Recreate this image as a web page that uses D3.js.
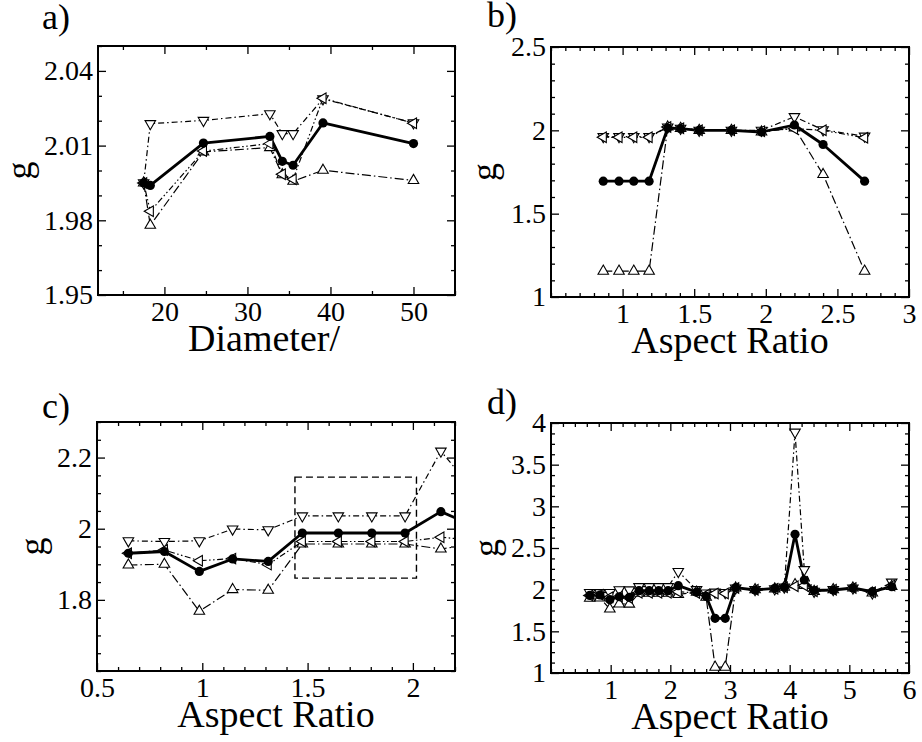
<!DOCTYPE html>
<html>
<head>
<meta charset="utf-8">
<script src="https://cdn.jsdelivr.net/npm/d3@7"></script>
<style>
html,body{margin:0;padding:0;background:#fff;}
svg{display:block;}
svg text{font-family:'Liberation Serif','DejaVu Serif',serif !important;}
</style>
</head>
<body>
<svg id="chart" width="922" height="742"></svg>
<script>
// ---------- DATA ----------
// Panel a: g vs Diameter
const aX      = [17.5, 18.3, 24.7, 32.7, 34.2, 35.5, 39.1, 50];
const aCircle = [1.995, 1.994, 2.011, 2.0137, 2.0037, 2.0021, 2.0191, 2.0108];
const aDown   = [1.995, 2.0188, 2.0201, 2.0228, 2.0148, 2.0148, 2.0288, 2.0191];
const aUp     = [1.995, 1.978, 2.0075, 2.0092, 1.9983, 1.9957, 2.0001, 1.9960];
const aLeft   = [1.995, 1.9836, 2.0078, 2.0108, 1.9985, 1.9965, 2.0290, 2.0190];

// Panel b: g vs Aspect Ratio
const bX      = [0.865, 0.975, 1.078, 1.185, 1.315, 1.405, 1.535, 1.76, 1.97, 2.20, 2.40, 2.69];
const bCircle = [1.695, 1.695, 1.695, 1.695, 2.014, 2.01, 2.0, 2.0, 1.99, 2.032, 1.915, 1.695];
const bDown   = [1.962, 1.962, 1.962, 1.962, 2.02, 2.012, 2.0, 2.0, 2.0, 2.082, 2.003, 1.965];
const bLeft   = [1.958, 1.958, 1.958, 1.958, 2.02, 2.012, 2.0, 2.0, 1.995, 2.01, 2.0, 1.955];
const bUp     = [1.155, 1.155, 1.155, 1.155, 2.02, 2.012, 2.0, 2.0, 1.99, 2.015, 1.735, 1.155];

// Panels c and d: g vs Aspect Ratio (c is a zoom of d)
const dX      = [0.649, 0.82, 0.986, 1.144, 1.313, 1.475, 1.646, 1.805, 1.963, 2.133,
                 2.44, 2.60, 2.75, 2.92, 3.095, 3.42, 3.75, 3.91, 4.09, 4.245, 4.41, 4.73, 5.06, 5.385, 5.71];
const dCircle = [1.931, 1.936, 1.880, 1.915, 1.908, 1.988, 1.988, 1.988, 1.988, 2.048,
                 1.97, 1.92, 1.656, 1.656, 2.024, 1.996, 2.016, 2.03, 2.664, 2.116, 1.99, 1.996, 2.02, 1.976, 2.036];
const dDown   = [1.966, 1.964, 1.966, 1.999, 1.997, 2.036, 2.036, 2.036, 2.036, 2.218,
                 2.0, 1.96, 1.97, 1.965, 2.02, 2.0, 2.01, 2.03, 3.89, 2.24, 1.98, 2.0, 2.02, 1.96, 2.09];
const dUp     = [1.898, 1.90, 1.768, 1.829, 1.827, 1.957, 1.957, 1.957, 1.957, 1.943,
                 1.97, 1.91, 1.07, 1.07, 2.02, 2.0, 2.01, 2.03, 2.06, 2.05, 1.98, 2.0, 2.02, 1.96, 2.04];
const dLeft   = [1.931, 1.94, 1.910, 1.916, 1.899, 1.964, 1.964, 1.964, 1.964, 1.976,
                 1.96, 1.94, 1.955, 1.955, 2.02, 2.0, 2.01, 2.03, 2.04, 2.05, 1.98, 2.0, 2.02, 1.97, 2.05];

// Dashed zoom box in panel c
const cBoxX = [1.44, 2.017];
const cBoxY = [1.861, 2.145];

// Tick labels
const aXTicks = [20, 30, 40, 50];
const aYTicks = [1.95, 1.98, 2.01, 2.04];
const bXTicks = [1, 1.5, 2, 2.5, 3];
const bYTicks = [1, 1.5, 2, 2.5];
const cXTicks = [0.5, 1, 1.5, 2];
const cYTicks = [1.8, 2, 2.2];
const dXTicks = [1, 2, 3, 4, 5, 6];
const dYTicks = [1, 1.5, 2, 2.5, 3, 3.5, 4];

// ---------- DRAWING ----------
const FONT = "Liberation Serif, DejaVu Serif, serif";
const svg = d3.select("#chart");

const styles = {
  circle: {dash: null, width: 2.8},
  down:   {dash: "6,3,1.5,3", width: 1.2},
  up:     {dash: "9,3,1.5,3", width: 1.2},
  left:   {dash: "1.5,2.5,1.5,2.5,6,2.5", width: 1.2}
};

function fmt(v){ return String(+v.toFixed(3)); }

function drawPanel(cfg, idx){
  const x = d3.scaleLinear().domain(cfg.xDomain).range([cfg.left, cfg.right]);
  const y = d3.scaleLinear().domain(cfg.yDomain).range([cfg.bottom, cfg.top]);
  const g = svg.append("g");

  const clipId = "clip" + idx;
  g.append("clipPath").attr("id", clipId).append("rect")
    .attr("x", cfg.left).attr("y", cfg.top)
    .attr("width", cfg.right - cfg.left).attr("height", cfg.bottom - cfg.top);

  const eps = 1e-6;
  const xMinor = d3.range(cfg.xMinorStart, cfg.xDomain[1] + eps, cfg.xMinorStep)
    .filter(v => !cfg.xTicks.some(t => Math.abs(t - v) < 1e-6));
  const yMinor = d3.range(cfg.yDomain[0], cfg.yDomain[1] + eps, cfg.yMinorStep)
    .filter(v => !cfg.yTicks.some(t => Math.abs(t - v) < 1e-6));

  const MAJ = 8, MIN = 4;
  function axisGroup(axis, transform){
    const a = g.append("g").attr("transform", transform).call(axis);
    a.select(".domain").remove();
    a.selectAll("line").attr("stroke", "#000").attr("stroke-width", 1.3);
    a.attr("font-family", FONT).attr("font-size", 28);
    a.selectAll("text").attr("fill", "#000");
    return a;
  }
  axisGroup(d3.axisBottom(x).tickValues(cfg.xTicks).tickSize(-MAJ).tickPadding(6).tickFormat(fmt),
    `translate(0,${cfg.bottom})`);
  axisGroup(d3.axisBottom(x).tickValues(xMinor).tickSize(-MIN).tickFormat(""),
    `translate(0,${cfg.bottom})`);
  axisGroup(d3.axisTop(x).tickValues(cfg.xTicks).tickSize(-MAJ).tickFormat(""),
    `translate(0,${cfg.top})`);
  axisGroup(d3.axisTop(x).tickValues(xMinor).tickSize(-MIN).tickFormat(""),
    `translate(0,${cfg.top})`);
  axisGroup(d3.axisLeft(y).tickValues(cfg.yTicks).tickSize(-MAJ).tickPadding(5).tickFormat(fmt),
    `translate(${cfg.left},0)`);
  axisGroup(d3.axisLeft(y).tickValues(yMinor).tickSize(-MIN).tickFormat(""),
    `translate(${cfg.left},0)`);
  axisGroup(d3.axisRight(y).tickValues(cfg.yTicks).tickSize(-MAJ).tickFormat(""),
    `translate(${cfg.right},0)`);
  axisGroup(d3.axisRight(y).tickValues(yMinor).tickSize(-MIN).tickFormat(""),
    `translate(${cfg.right},0)`);

  const plot = g.append("g").attr("clip-path", `url(#${clipId})`);
  const line = d3.line().x(d => x(d[0])).y(d => y(d[1]));
  const order = ["down", "up", "left", "circle"];
  const seriesData = {};
  order.forEach(k => { seriesData[k] = cfg.xs.map((xv, i) => [xv, cfg.series[k][i]]); });

  order.forEach(k => {
    const st = styles[k];
    plot.append("path").datum(seriesData[k])
      .attr("d", line).attr("fill", "none").attr("stroke", "#000")
      .attr("stroke-width", st.width)
      .attr("stroke-linejoin", "round")
      .attr("stroke-dasharray", st.dash);
  });

  if (cfg.box){
    plot.append("rect")
      .attr("x", x(cfg.box.x[0])).attr("y", y(cfg.box.y[1]))
      .attr("width", x(cfg.box.x[1]) - x(cfg.box.x[0]))
      .attr("height", y(cfg.box.y[0]) - y(cfg.box.y[1]))
      .attr("fill", "none").attr("stroke", "#000").attr("stroke-width", 1.4)
      .attr("stroke-dasharray", "7,4");
  }

  const tri = d3.symbol().type(d3.symbolTriangle).size(48);
  const rot = {up: 0, down: 180, left: -90};
  ["down", "up", "left"].forEach(k => {
    plot.selectAll(null).data(seriesData[k]).enter().append("path")
      .attr("d", tri)
      .attr("transform", d => `translate(${x(d[0])},${y(d[1])}) rotate(${rot[k]})`)
      .attr("fill", "#fff").attr("stroke", "#000").attr("stroke-width", 1.1);
  });
  plot.selectAll(null).data(seriesData.circle).enter().append("circle")
    .attr("cx", d => x(d[0])).attr("cy", d => y(d[1])).attr("r", 4.6)
    .attr("fill", "#000");

  g.append("rect").attr("x", cfg.left).attr("y", cfg.top)
    .attr("width", cfg.right - cfg.left).attr("height", cfg.bottom - cfg.top)
    .attr("fill", "none").attr("stroke", "#000").attr("stroke-width", 2);

  g.append("text").attr("x", cfg.xTitleX).attr("y", cfg.bottom + 56)
    .attr("text-anchor", "middle").attr("font-family", FONT).attr("font-size", 38)
    .text(cfg.xTitle);
  g.append("text")
    .attr("transform", `translate(${cfg.gX},${(cfg.top + cfg.bottom) / 2}) rotate(-90)`)
    .attr("text-anchor", "middle").attr("font-family", FONT).attr("font-size", 36)
    .text("g");
  g.append("text").attr("x", cfg.labelX).attr("y", cfg.labelY)
    .attr("font-family", FONT).attr("font-size", 36).text(cfg.label);
}

const panels = [
  {left: 98, right: 455, top: 46, bottom: 295, xDomain: [12, 55], yDomain: [1.95, 2.05],
   xTicks: aXTicks, yTicks: aYTicks, xMinorStart: 15, xMinorStep: 5, yMinorStep: 0.01,
   xs: aX, series: {circle: aCircle, down: aDown, up: aUp, left: aLeft},
   xTitle: "Diameter/", xTitleX: 264, gX: 31, label: "a)", labelX: 42, labelY: 29},
  {left: 551, right: 909, top: 47, bottom: 297, xDomain: [0.5, 3], yDomain: [1, 2.5],
   xTicks: bXTicks, yTicks: bYTicks, xMinorStart: 0.5, xMinorStep: 0.1, yMinorStep: 0.1,
   xs: bX, series: {circle: bCircle, down: bDown, up: bUp, left: bLeft},
   xTitle: "Aspect Ratio", xTitleX: 730, gX: 496, label: "b)", labelX: 487, labelY: 27},
  {left: 97, right: 455, top: 422, bottom: 671, xDomain: [0.5, 2.2], yDomain: [1.6, 2.3],
   xTicks: cXTicks, yTicks: cYTicks, xMinorStart: 0.5, xMinorStep: 0.1, yMinorStep: 0.05,
   xs: dX, series: {circle: dCircle, down: dDown, up: dUp, left: dLeft},
   box: {x: cBoxX, y: cBoxY},
   xTitle: "Aspect Ratio", xTitleX: 276, gX: 44, label: "c)", labelX: 42, labelY: 418},
  {left: 551, right: 909, top: 423, bottom: 673, xDomain: [0, 6], yDomain: [1, 4],
   xTicks: dXTicks, yTicks: dYTicks, xMinorStart: 0, xMinorStep: 0.2, yMinorStep: 0.125,
   xs: dX, series: {circle: dCircle, down: dDown, up: dUp, left: dLeft},
   xTitle: "Aspect Ratio", xTitleX: 730, gX: 498, label: "d)", labelX: 487, labelY: 414}
];
panels.forEach(drawPanel);
</script>
</body>
</html>
